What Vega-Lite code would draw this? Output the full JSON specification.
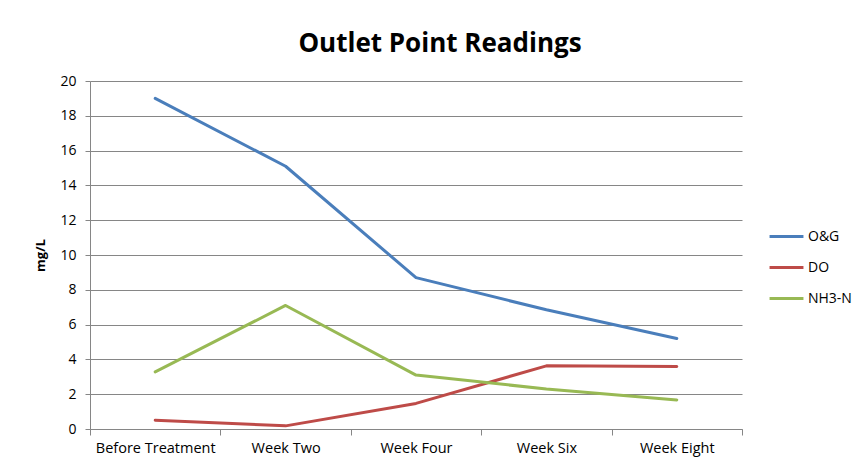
{
  "$schema": "https://vega.github.io/schema/vega-lite/v6.json",
  "width": 652,
  "height": 348,
  "autosize": "none",
  "padding": {"left": 90, "top": 81, "right": 118, "bottom": 39},
  "background": "white",
  "title": {
    "text": "Outlet Point Readings",
    "font": "Open Sans",
    "fontSize": 26,
    "fontWeight": "bold",
    "color": "#000000",
    "anchor": "middle",
    "dx": 24,
    "offset": 17
  },
  "data": {
    "values": [
      {"week": "Before Treatment", "series": "O&G", "value": 19.0},
      {"week": "Week Two", "series": "O&G", "value": 15.1},
      {"week": "Week Four", "series": "O&G", "value": 8.7},
      {"week": "Week Six", "series": "O&G", "value": 6.85},
      {"week": "Week Eight", "series": "O&G", "value": 5.2},
      {"week": "Before Treatment", "series": "DO", "value": 0.5},
      {"week": "Week Two", "series": "DO", "value": 0.18},
      {"week": "Week Four", "series": "DO", "value": 1.47},
      {"week": "Week Six", "series": "DO", "value": 3.63},
      {"week": "Week Eight", "series": "DO", "value": 3.59},
      {"week": "Before Treatment", "series": "NH3-N", "value": 3.28},
      {"week": "Week Two", "series": "NH3-N", "value": 7.1},
      {"week": "Week Four", "series": "NH3-N", "value": 3.1},
      {"week": "Week Six", "series": "NH3-N", "value": 2.3},
      {"week": "Week Eight", "series": "NH3-N", "value": 1.67}
    ]
  },
  "mark": {"type": "line", "strokeWidth": 3, "strokeCap": "round", "strokeJoin": "round"},
  "encoding": {
    "x": {
      "field": "week",
      "type": "nominal",
      "sort": null,
      "bandPosition": 0.5,
      "scale": {"type": "band", "paddingInner": 0, "paddingOuter": 0},
      "axis": {
        "title": null,
        "labelAngle": 0,
        "tickBand": "extent",
        "grid": false,
        "domainColor": "#868686",
        "tickColor": "#868686",
        "tickSize": 6,
        "labelPadding": 6,
        "labelFont": "Open Sans",
        "labelFontSize": 14.5,
        "labelColor": "#000000"
      }
    },
    "y": {
      "field": "value",
      "type": "quantitative",
      "scale": {"domain": [0, 20], "nice": false},
      "axis": {
        "title": "mg/L",
        "titleFont": "Open Sans",
        "titleFontSize": 13,
        "titleFontWeight": "bold",
        "titleColor": "#000000",
        "titlePadding": 12,
        "values": [0, 2, 4, 6, 8, 10, 12, 14, 16, 18, 20],
        "grid": true,
        "gridColor": "#868686",
        "domainColor": "#868686",
        "tickColor": "#868686",
        "tickSize": 5,
        "labelPadding": 9,
        "labelFont": "Open Sans",
        "labelFontSize": 14,
        "labelColor": "#000000"
      }
    },
    "color": {
      "field": "series",
      "type": "nominal",
      "sort": ["O&G", "DO", "NH3-N"],
      "scale": {"domain": ["O&G", "DO", "NH3-N"], "range": ["#4A7EBB", "#BE4B48", "#98B954"]},
      "legend": {
        "title": null,
        "orient": "none",
        "legendX": 678,
        "legendY": 137,
        "symbolType": "stroke",
        "symbolSize": 1150,
        "symbolStrokeWidth": 3,
        "rowPadding": 5,
        "labelOffset": 3,
        "labelFont": "Open Sans",
        "labelFontSize": 14,
        "labelColor": "#000000",
        "padding": 0
      }
    }
  },
  "config": {
    "view": {"stroke": null}
  }
}
